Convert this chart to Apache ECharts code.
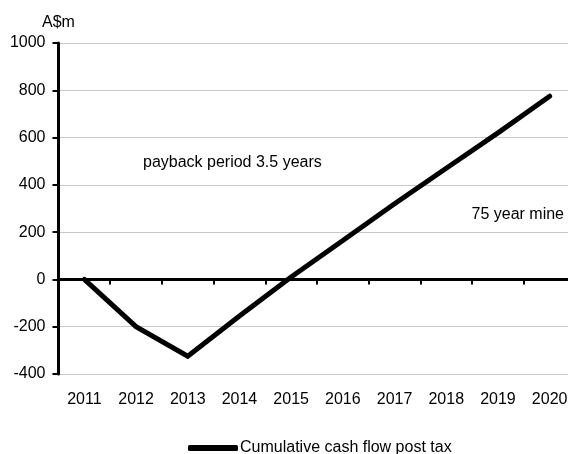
<!DOCTYPE html>
<html>
<head>
<meta charset="utf-8">
<script src="https://cdn.jsdelivr.net/npm/echarts@6/dist/echarts.min.js"></script>
<style>
  html, body { margin: 0; padding: 0; background: #fff; overflow: hidden; }
  /* plot area runs slightly past the right edge of the page */
  #chart { width: 576px; height: 454px; }
</style>
</head>
<body>
<div id="chart"></div>
<script>
// Years on the category axis
const years = ['2011', '2012', '2013', '2014', '2015', '2016', '2017', '2018', '2019', '2020'];
// Cumulative post-tax cash flow, A$m
const cumulativeCashFlow = [0, -200, -325, -155, 10, 165, 320, 470, 620, 775];
// Value axis range and step
const yMin = -400;
const yMax = 1000;
const yStep = 200;
const seriesName = 'Cumulative cash flow post tax';
const notePayback = 'payback period 3.5 years';
const noteMineLife = '75 year mine';

const FONT = 'Liberation Sans, Arial, sans-serif';

const chart = echarts.init(document.getElementById('chart'), null, { renderer: 'canvas' });

chart.setOption({
  animation: false,
  backgroundColor: '#ffffff',
  textStyle: { fontFamily: FONT, color: '#000' },
  grid: { left: 58.5, right: 0.5, top: 43, bottom: 80, containLabel: false },
  xAxis: [
    {
      // axis line drawn through zero with boundary ticks
      type: 'category',
      data: years,
      boundaryGap: true,
      position: 'bottom',
      axisLine: { show: true, onZero: true, lineStyle: { color: '#000', width: 3 } },
      axisTick: { show: true, length: 5, lineStyle: { color: '#000', width: 2 } },
      axisLabel: { show: false },
      splitLine: { show: false }
    },
    {
      // year labels along the bottom of the plot
      type: 'category',
      data: years,
      boundaryGap: true,
      position: 'bottom',
      axisLine: { show: false, onZero: false },
      axisTick: { show: false },
      axisLabel: { show: true, margin: 18, fontSize: 16, color: '#000', fontFamily: FONT },
      splitLine: { show: false }
    }
  ],
  yAxis: {
    type: 'value',
    min: yMin,
    max: yMax,
    interval: yStep,
    name: 'A$m',
    nameLocation: 'end',
    nameGap: 12,
    nameTextStyle: { fontSize: 16, color: '#000', fontFamily: FONT, align: 'center' },
    axisLine: { show: true, lineStyle: { color: '#000', width: 3 } },
    axisTick: { show: true, length: 6, lineStyle: { color: '#000', width: 2 } },
    axisLabel: {
      margin: 13,
      fontSize: 16,
      color: '#000',
      fontFamily: FONT,
      formatter: (v) => String(v)
    },
    splitLine: { show: true, lineStyle: { color: '#c8c8c8', width: 1 } }
  },
  legend: {
    show: true,
    left: 183,
    top: 435,
    itemWidth: 50,
    itemHeight: 6,
    icon: 'roundRect',
    itemStyle: { color: '#000' },
    textStyle: { fontSize: 16, color: '#000', fontFamily: FONT, padding: [0, 0, 0, -3] },
    data: [seriesName]
  },
  graphic: [
    {
      type: 'text',
      left: 143,
      top: 155,
      style: { text: notePayback, font: '16px ' + FONT, fill: '#000' }
    },
    {
      type: 'text',
      left: 471.5,
      top: 206.5,
      style: { text: noteMineLife, font: '16px ' + FONT, fill: '#000' }
    }
  ],
  series: [
    {
      name: seriesName,
      type: 'line',
      xAxisIndex: 0,
      data: cumulativeCashFlow,
      showSymbol: false,
      symbol: 'none',
      lineStyle: { color: '#000', width: 5, cap: 'round', join: 'miter' },
      itemStyle: { color: '#000' }
    }
  ]
});
</script>
</body>
</html>
